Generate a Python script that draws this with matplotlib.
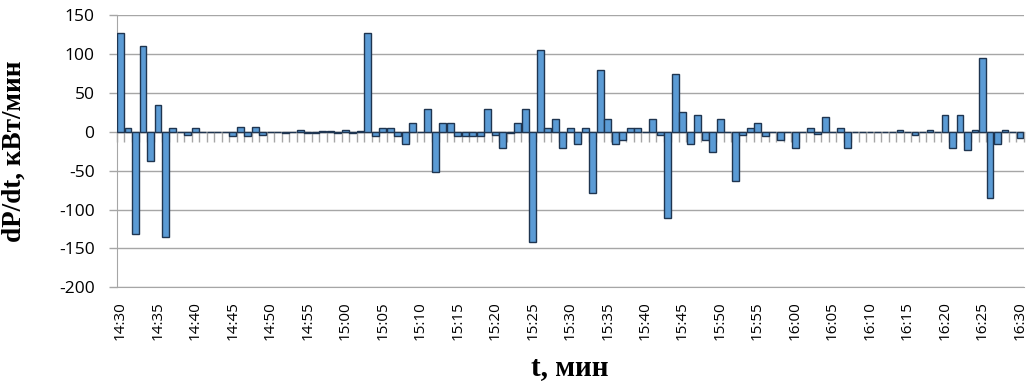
import numpy as np
import matplotlib.pyplot as plt

plt.rcParams['axes.unicode_minus'] = False

# dP/dt per minute, 14:30 .. 16:30
start_hour, start_min = 14, 30
dpdt = [127, 5, -131, 111, -37, 34, -135, 5, 0, -4,
        5, 0, 0, 0, 0, -5, 6, -5, 6, -4,
        0, 0, -1, 0, 3, -1, -1, 1, 1, -2,
        3, -1, 1, 127, -5, 5, 5, -5, -15, 11,
        0, 30, -52, 11, 11, -5, -5, -5, -5, 30,
        -4, -21, -1, 11, 30, -142, 105, 5, 16, -21,
        5, -15, 5, -79, 79, 16, -15, -10, 5, 5,
        0, 16, -4, -111, 74, 26, -15, 22, -10, -26,
        16, 0, -63, -4, 5, 11, -5, 0, -10, 0,
        -21, 0, 5, -3, 19, 0, 5, -21, 0, 0,
        0, 0, 0, 0, 3, 0, -4, 0, 3, 0,
        22, -21, 22, -24, 3, 95, -85, -15, 3, 0,
        -8]

times = []
for k in range(len(dpdt)):
    m = start_hour * 60 + start_min + k
    times.append(f"{m // 60}:{m % 60:02d}")

yticks = [-200, -150, -100, -50, 0, 50, 100, 150]

grid_c = '#a6a6a6'
tick_font = 'Open Sans'

fig = plt.figure(figsize=(10.33, 3.82), dpi=100)
ax = fig.add_axes([0.113, 0.248, 0.878, 0.712])

x = np.arange(len(dpdt))
ax.bar(x, dpdt, width=0.92, color='#5b9bd5', edgecolor='#1f3550', linewidth=1.0, zorder=3)

ax.set_xlim(-0.5, len(dpdt) - 0.5)
ax.set_ylim(yticks[0], yticks[-1])
ax.set_yticks(yticks)
ax.yaxis.grid(True, color=grid_c, linewidth=1.0, zorder=0)
ax.set_axisbelow(True)

for s in ['top', 'right']:
    ax.spines[s].set_visible(False)
ax.spines['left'].set_color(grid_c)
ax.spines['bottom'].set_color(grid_c)
ax.tick_params(axis='y', color=grid_c, length=6, width=1, labelsize=12.5, pad=10)
for lbl in ax.get_yticklabels():
    lbl.set_fontfamily(tick_font)

ax.set_xticks(x[::5])
ax.set_xticklabels(times[::5], rotation=90, fontsize=11, fontfamily=tick_font)
ax.tick_params(axis='x', length=0, pad=10)

# category axis crossing at zero with tick marks between categories
zero_frac = (0 - yticks[0]) / (yticks[-1] - yticks[0])
sec = ax.secondary_xaxis(zero_frac)
sec.set_xticks(np.arange(-0.5, len(dpdt), 1.0))
sec.set_xticklabels([])
sec.tick_params(axis='x', direction='in', length=7, width=1, color=grid_c)
for s in sec.spines.values():
    s.set_color(grid_c)
    s.set_linewidth(1.0)
sec.set_zorder(2)

ax.set_xlabel('t, мин', fontfamily='Liberation Serif', fontweight='bold', fontsize=21)
ax.xaxis.label.set_va('baseline')
ax.xaxis.set_label_coords(0.5, -0.322)
ax.set_ylabel('dP/dt, кВт/мин', fontfamily='Liberation Serif', fontweight='bold', fontsize=19.5)
ax.yaxis.set_label_coords(-0.099, 0.5)

fig.savefig('out.png', dpi=100)
